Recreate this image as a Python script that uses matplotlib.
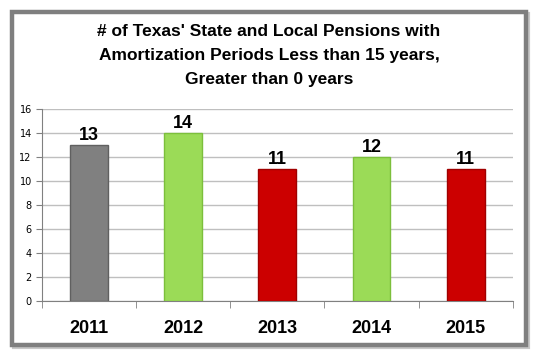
import matplotlib
matplotlib.use("Agg")
import matplotlib.pyplot as plt
from matplotlib.patches import Rectangle

years = ["2011", "2012", "2013", "2014", "2015"]
counts = [13, 14, 11, 12, 11]
colors = ["#808080", "#9bdb57", "#cc0000", "#9bdb57", "#cc0000"]
edges = ["#606060", "#7cbf3c", "#a00000", "#7cbf3c", "#a00000"]
title = "# of Texas' State and Local Pensions with\nAmortization Periods Less than 15 years,\nGreater than 0 years"
yticks = [0, 2, 4, 6, 8, 10, 12, 14, 16]

W, H = 535, 357
fig = plt.figure(figsize=(W/100, H/100), dpi=100)
fig.patch.set_facecolor("white")

# outer chart frame with soft shadow
shadow = Rectangle((14/W, 1-347/H), (526-12)/W, (345-12)/H, transform=fig.transFigure,
                   facecolor="none", edgecolor="#c8c8c8", linewidth=3.0, zorder=-6)
fig.patches.append(shadow)
frame = Rectangle((12/W, 1-345/H), (526-12)/W, (345-12)/H, transform=fig.transFigure,
                  facecolor="white", edgecolor="#7f7f7f", linewidth=3.2, zorder=-5)
fig.patches.append(frame)

ax = fig.add_axes([41.5/W, 1-301/H, (513-41.5)/W, (301-109)/H])
ax.set_zorder(2)
ax.set_facecolor("none")
x = list(range(len(years)))
ax.bar(x, counts, width=0.4, color=colors, edgecolor=edges, linewidth=1.0, zorder=3)
for xi, v in zip(x, counts):
    ax.text(xi, v + 0.1, str(v), ha="center", va="bottom", fontsize=13,
            fontweight="bold", family="Liberation Sans", zorder=4)

ax.set_xlim(-0.5, len(years) - 0.5)
ax.set_ylim(0, 16)
ax.set_yticks(yticks)
ax.set_yticklabels([str(t) for t in yticks], fontsize=7, family="DejaVu Sans")
ax.yaxis.grid(True, color="#bfbfbf", linewidth=1.0, zorder=0)
ax.set_axisbelow(True)
ax.set_xticks(x)
ax.set_xticklabels(years, fontsize=13, fontweight="bold", family="Liberation Sans")
ax.tick_params(axis="x", length=0, pad=14)
ax.set_xticks([i + 0.5 for i in range(-1, len(years))], minor=True)
ax.tick_params(axis="x", which="minor", length=5, color="#808080")
ax.tick_params(axis="y", length=4, color="#808080", pad=3)
for s in ["top", "right"]:
    ax.spines[s].set_visible(False)
ax.spines["left"].set_color("#808080")
ax.spines["bottom"].set_color("#808080")

fig.text(0.5 * (12 + 526) / W, 1 - 24/H, title, ha="center", va="top", fontsize=12.5,
         fontweight="bold", family="Liberation Sans", linespacing=1.75)

fig.savefig("out.png", dpi=100)
